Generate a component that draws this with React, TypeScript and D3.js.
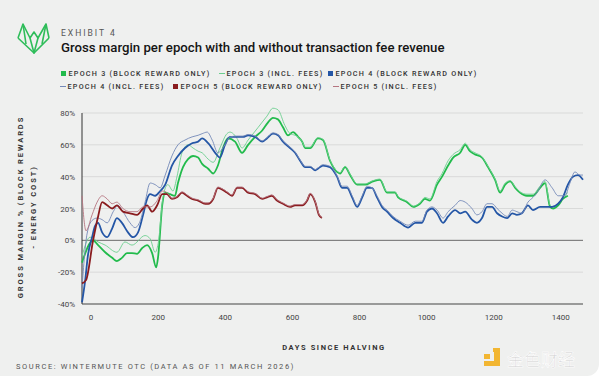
import React from "react";
import * as d3 from "d3";

type P = [number, number];

const e3Block: P[] = [[-27,-14],[6,0],[21,-3],[42,-7.5],[63,-11],[77,-13],[92,-11],[107,-8],[122,-8],[137,-8.5],[152,-5],[167,-3],[182,-8],[194,-17],[200,-10],[212,22],[221,30],[235,29],[250,28],[259,36],[274,46],[289,51],[304,53],[319,52],[331,48],[349,45],[364,42],[378,47],[393,58],[408,64],[429,62],[450,55],[468,60],[489,65],[510,69],[527,74],[542,77],[557,76],[572,71],[587,66],[602,68],[617,65],[629,62],[638,58],[653,58],[676,64],[691,63],[712,50],[733,43],[742,42],[757,46],[772,41],[793,35],[817,35],[840,37],[861,38],[882,30],[906,30],[915,27],[942,24],[960,21],[980,23],[995,26],[1010,25],[1031,35],[1046,40],[1064,47],[1079,52],[1100,55],[1115,60],[1129,56],[1144,54],[1165,52],[1183,46],[1204,38],[1219,30],[1234,35],[1249,37],[1264,33],[1278,30],[1299,28],[1317,28],[1338,33],[1353,36],[1368,21],[1377,20],[1392,22],[1406,26],[1421,28]];

const e3Fees: P[] = [[-27,-10],[-3,2],[21,-1],[42,-3],[77,-7.5],[101,-1],[122,-3],[161,3],[176,1],[191,-7.5],[200,-2],[215,28],[229,35],[244,31],[256,40],[271,55],[289,60],[304,58],[319,56],[331,55],[349,51],[364,49],[384,58],[405,67],[414,68],[435,64],[450,58],[468,63],[498,71],[524,78],[542,83],[557,82],[578,72],[593,67],[608,66],[617,65],[629,62],[638,58.5],[653,58.5],[676,64.5],[691,63.5],[712,50.5],[733,43.5],[742,42.5],[757,46.5],[772,41.5],[793,35.5],[817,35.5],[840,37.5],[861,38.5],[882,30.5],[906,30.5],[915,27.5],[942,24.5],[960,21.5],[980,23.5],[995,27],[1010,26],[1031,37],[1046,42],[1064,50],[1079,54],[1100,57],[1115,61],[1129,57],[1144,55],[1165,52.5],[1183,46.5],[1204,38.5],[1219,31],[1234,36],[1249,37.5],[1264,33.5],[1278,30.5],[1299,29],[1317,29],[1338,34],[1353,37],[1368,22],[1377,21],[1392,23],[1406,27],[1421,30]];

const e4Block: P[] = [[-27,-39],[-18,-26],[-9,-9],[3,2],[12,9],[21,11],[33,5],[48,2],[63,7.5],[77,14],[92,11],[110,5],[125,2],[140,5],[155,16],[167,26],[176,29],[191,28],[206,31],[221,35],[241,47],[259,53],[280,58],[301,61],[319,62],[331,64],[349,61],[370,55],[384,52],[399,60],[414,65],[435,65],[453,65],[468,66],[489,65],[510,62],[524,64],[542,67],[557,66],[572,62],[593,58],[608,55],[623,50],[638,46],[653,46],[668,44],[676,45],[691,47],[712,46],[733,40],[748,33],[763,33],[778,27],[793,21],[808,27],[822,33],[837,33],[852,27],[867,21],[882,18],[900,14],[921,11],[945,8],[966,11],[986,11],[1001,18],[1016,20],[1031,17],[1049,11],[1064,15],[1085,19],[1100,17],[1115,18],[1135,13],[1150,11],[1165,14],[1180,21],[1195,21],[1210,17],[1225,15],[1240,14],[1255,17],[1269,16],[1284,17],[1302,22],[1317,19],[1338,21],[1359,21],[1374,21],[1392,23],[1406,27],[1421,35],[1436,40],[1451,41],[1466,38]];

const e4Fees: P[] = [[-27,-30],[-12,4],[3,12.5],[18,14],[33,13],[48,11],[66,18],[80,22],[95,18],[116,11],[131,8],[146,12],[161,24],[176,36],[191,35],[206,33],[221,41],[241,53],[259,60],[280,63],[301,65],[319,66],[331,67],[346,68],[361,63],[378,55],[399,60],[414,65],[435,65.5],[453,65.5],[468,66.5],[489,65.5],[510,62.5],[524,64.5],[542,67.5],[557,66.5],[572,62.5],[593,58.5],[608,55.5],[623,50.5],[638,46.5],[653,46.5],[668,44.5],[676,45.5],[691,47.5],[712,46.5],[733,40.5],[748,34],[763,34],[778,28],[793,22],[808,28],[822,34],[837,33],[852,28],[867,22],[882,19],[900,15],[921,12],[945,9.5],[966,12],[986,12],[1001,19],[1016,21],[1031,19],[1049,14],[1064,18],[1085,22],[1100,25],[1115,24],[1135,20],[1150,16],[1165,18],[1180,23],[1195,23],[1210,20],[1225,17],[1240,15],[1255,19],[1269,18],[1284,17],[1302,24],[1317,27],[1329,30],[1353,38],[1374,33],[1392,28],[1412,28],[1427,36],[1442,43],[1457,41],[1466,41]];

const e5Block: P[] = [[-27,-27],[-15,-25],[6,0],[21,15],[33,24],[48,22],[63,20],[77,22],[95,18],[116,17],[137,16],[155,20],[167,22],[182,18],[197,22],[212,29],[226,29],[241,26],[256,27],[271,30],[286,28],[301,26],[319,25],[340,23],[349,23],[364,26],[378,33],[390,32],[405,30],[420,28],[435,33],[450,33],[468,30],[489,29],[510,26],[524,27],[539,28],[554,25],[572,23],[593,21],[608,22],[629,22],[644,25],[653,29],[668,24],[679,16],[688,14]];

const e5Fees: P[] = [[-27,28],[-15,6],[3,16],[18,24],[33,28],[48,26],[63,23],[77,24],[95,20],[116,18],[137,18],[155,21],[176,21],[197,25],[212,31],[226,30],[241,26.5],[256,27.5],[271,30.5],[286,28.5],[301,26.5],[319,25.5],[340,23.5],[349,23.5],[364,26.5],[378,33.5],[390,32.5],[405,30.5],[420,28.5],[435,33.5],[450,33.5],[468,30.5],[489,29.5],[510,26.5],[524,27.5],[539,28.5],[554,25.5],[572,23.5],[593,21.5],[608,22.5],[629,22.5],[644,25.5],[653,29.5],[668,24.5],[679,16.5],[688,14.5]];

const xTicks = [0, 200, 400, 600, 800, 1000, 1200, 1400];
const yTicks = [-40, -20, 0, 20, 40, 60, 80];

const seriesNames = [
  "EPOCH 3 (BLOCK REWARD ONLY)",
  "EPOCH 3 (INCL. FEES)",
  "EPOCH 4 (BLOCK REWARD ONLY)",
  "EPOCH 4 (INCL. FEES)",
  "EPOCH 5 (BLOCK REWARD ONLY)",
  "EPOCH 5 (INCL. FEES)",
];

const series = [
  { data: e3Block, color: "#22bb4c", w: 1.8 },
  { data: e3Fees, color: "#6ccf8e", w: 0.9 },
  { data: e4Block, color: "#2456a6", w: 1.8 },
  { data: e4Fees, color: "#7489b8", w: 0.9 },
  { data: e5Block, color: "#8a1c1f", w: 1.8 },
  { data: e5Fees, color: "#b57580", w: 0.9 },
];

// legend layout: [x of marker, row y, kind]
const legendLayout: [number, number, "sq" | "ln"][] = [
  [61, 76, "sq"],
  [219, 76, "ln"],
  [328, 76, "sq"],
  [60, 89, "ln"],
  [173, 89, "sq"],
  [333, 89, "ln"],
];

export default function App() {
  const W = 600, H = 377;
  const x = d3.scaleLinear().domain([-27, 1466]).range([82, 583]);
  const y = d3.scaleLinear().domain([-40, 80]).range([304, 113]);
  const line = d3
    .line<P>()
    .x((d) => x(d[0]))
    .y((d) => y(d[1]))
    .curve(d3.curveMonotoneX);

  const font = "Roboto, 'DejaVu Sans', sans-serif";

  return (
    <div style={{ position: "fixed", left: 0, top: 0 }}>
      <svg width={W} height={H} style={{ display: "block" }} fontFamily={font}>
        <rect x={0} y={0} width={W} height={H} fill="#ffffff" />
        <rect x={-12} y={-12} width={W + 12 - 1} height={H + 12 - 1} rx={12} fill="#eff0ef" />

        {/* logo */}
        <g fill="none" stroke="#2fbd5a" strokeWidth={1.6} strokeLinejoin="round">
          <path d="M18,38 L23,24 L30,38 L34,32 L38,38 L46,24 L49,38" />
          <path d="M18,38 L34,53 L49,38" />
          <path d="M30,38 L34,53 L38,38" />
          <path d="M23,24 L26,44 M46,24 L42,44" />
        </g>

        <text x={61} y={36} fontSize={8.5} letterSpacing={2} fill="#555">EXHIBIT 4</text>
        <text x={61} y={51.5} fontSize={13.2} fontWeight={500} fill="#151515">
          Gross margin per epoch with and without transaction fee revenue
        </text>

        {/* legend */}
        {legendLayout.map(([lx, ly, kind], i) => (
          <g key={i}>
            {kind === "sq" ? (
              <rect x={lx} y={ly - 5} width={5} height={5} fill={series[i].color} />
            ) : (
              <line x1={lx} x2={lx + 6} y1={ly - 2.5} y2={ly - 2.5} stroke={series[i].color} strokeWidth={1} />
            )}
            <text x={lx + 7.5} y={ly} fontSize={7.2} letterSpacing={1.25} fill="#333" fontWeight={500}>
              {seriesNames[i]}
            </text>
          </g>
        ))}

        {/* grid */}
        {yTicks.filter((t) => t !== 0 && t !== -40).map((t) => (
          <line key={t} x1={82} x2={583} y1={y(t)} y2={y(t)} stroke="#d9dad9" strokeWidth={1} />
        ))}
        <line x1={82} x2={583} y1={y(0)} y2={y(0)} stroke="#6a6a6a" strokeWidth={1} />
        <line x1={82} x2={583} y1={y(-40)} y2={y(-40)} stroke="#444" strokeWidth={1.2} />
        <line x1={82} x2={82} y1={y(80)} y2={y(-40)} stroke="#333" strokeWidth={1} />

        {yTicks.map((t) => (
          <text key={t} x={75} y={y(t) + 3} fontSize={8} textAnchor="end" fill="#444">
            {t}%
          </text>
        ))}
        {xTicks.map((t) => (
          <text key={t} x={x(t)} y={320} fontSize={8} textAnchor="middle" fill="#444">
            {t}
          </text>
        ))}

        {/* lines */}
        {series.map((s, i) => (
          <path key={i} d={line(s.data) || ""} fill="none" stroke={s.color} strokeWidth={s.w} strokeLinejoin="round" />
        ))}

        {/* axis titles */}
        <g transform="translate(23,207) rotate(-90)">
          <text x={0} y={0} fontSize={7.5} fontWeight={700} letterSpacing={1.9} textAnchor="middle" fill="#333">
            GROSS MARGIN % (BLOCK REWARDS
          </text>
          <text x={0} y={13} fontSize={7.5} fontWeight={700} letterSpacing={1.9} textAnchor="middle" fill="#333">
            - ENERGY COST)
          </text>
        </g>
        <text x={334} y={350} fontSize={7.5} fontWeight={700} letterSpacing={1.6} textAnchor="middle" fill="#333">
          DAYS SINCE HALVING
        </text>
        <text x={16} y={369} fontSize={7.5} letterSpacing={1.6} fill="#555">
          SOURCE: WINTERMUTE OTC (DATA AS OF 11 MARCH 2026)
        </text>

        {/* watermark */}
        <g>
          <rect x={484} y={354} width={6} height={5} fill="#f2b632" />
          <path d="M493,348 L500,348 L500,366 L484,366 L484,361 L494,361 L494,352 L493,352 Z" fill="#f2b632" />
          <text x={507} y={366} fontSize={17} fontFamily="'Noto Sans CJK SC', sans-serif" fill="#d6d6d6" stroke="#ffffff" strokeWidth={0.6}>
            金色财经
          </text>
        </g>
      </svg>
    </div>
  );
}
